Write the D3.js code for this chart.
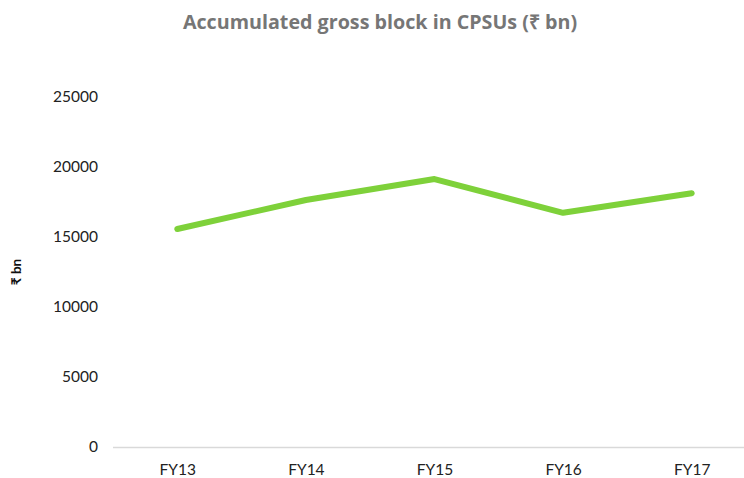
<!DOCTYPE html>
<html>
<head>
<meta charset="utf-8">
<script src="https://cdn.jsdelivr.net/npm/d3@7"></script>
<style>
  body { margin: 0; background: #fff; }
  svg { display: block; font-family: Lato, "Open Sans", sans-serif; }
</style>
</head>
<body>
<div id="chart"></div>
<script>
const categories = ['FY13', 'FY14', 'FY15', 'FY16', 'FY17'];
const grossBlock = [15570, 17640, 19140, 16730, 18120];
const yTicks = [0, 5000, 10000, 15000, 20000, 25000];

const chartWidth = 744;
const chartHeight = 478;
const plotLeft = 113;
const plotRight = 756;
const plotTop = 97;
const plotBottom = 447;

const svg = d3.select('#chart')
    .append('svg')
    .attr('width', chartWidth)
    .attr('height', chartHeight);

const xScale = d3.scalePoint()
    .domain(categories)
    .range([plotLeft, plotRight])
    .padding(0.5);

const yScale = d3.scaleLinear()
    .domain([0, 25000])
    .range([plotBottom, plotTop]);

// title
svg.append('text')
    .attr('x', 380)
    .attr('y', 29)
    .attr('text-anchor', 'middle')
    .style('font-family', '"Open Sans", sans-serif')
    .style('font-size', '19.7px')
    .style('font-weight', 'bold')
    .style('fill', '#767676')
    .text('Accumulated gross block in CPSUs (₹ bn)');

// y axis, labels only
const yAxis = d3.axisLeft(yScale)
    .tickValues(yTicks)
    .tickFormat(d3.format('d'))
    .tickSize(0)
    .tickPadding(0);

const gy = svg.append('g')
    .attr('transform', 'translate(98,0)')
    .call(yAxis);
gy.select('.domain').remove();
gy.selectAll('text')
    .style('font-size', '15.5px')
    .style('font-family', 'Lato, sans-serif')
    .style('fill', '#222');

// x axis
const xAxis = d3.axisBottom(xScale)
    .tickSize(0)
    .tickPadding(17);

const gx = svg.append('g')
    .attr('transform', 'translate(0,' + plotBottom + ')')
    .call(xAxis);
gx.select('.domain')
    .attr('d', 'M' + plotLeft + ',0.5H' + plotRight)
    .attr('stroke', '#d9d9d9')
    .attr('stroke-width', 1.3);
gx.selectAll('text')
    .style('font-size', '15.5px')
    .style('font-family', 'Lato, sans-serif')
    .style('fill', '#222');

// y axis title
svg.append('text')
    .attr('transform', 'translate(21,272) rotate(-90)')
    .attr('text-anchor', 'middle')
    .style('font-size', '13.5px')
    .style('font-weight', 'bold')
    .style('fill', '#111')
    .text('₹ bn');

// line
const line = d3.line()
    .x((d, i) => xScale(categories[i]))
    .y(d => yScale(d));

svg.append('path')
    .datum(grossBlock)
    .attr('d', line)
    .attr('fill', 'none')
    .attr('stroke', '#7ed13a')
    .attr('stroke-width', 6)
    .attr('stroke-linecap', 'round')
    .attr('stroke-linejoin', 'round');
</script>
</body>
</html>
